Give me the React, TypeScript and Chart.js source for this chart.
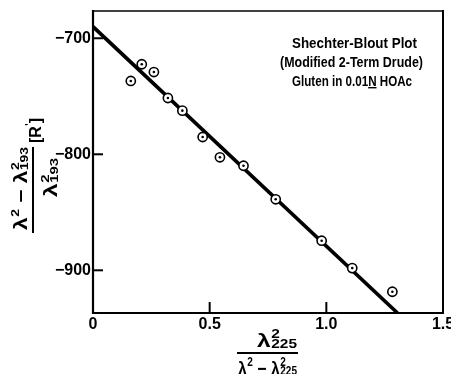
import { useEffect, useRef } from 'react';
import { Chart, registerables } from 'chart.js';

Chart.register(...registerables);

// ---- data ----
const pointX = [0.162, 0.209, 0.261, 0.321, 0.383, 0.47, 0.544, 0.645, 0.783, 0.98, 1.111, 1.283];
const pointY = [-736.8, -722.4, -729.1, -751.5, -762.4, -785.1, -802.6, -809.9, -838.8, -874.5, -898.1, -918.5];
const fitX = [0, 1.305];
const fitY = [-690, -936.8];
const xTickValues = [0, 0.5, 1.0, 1.5];
const yTickValues = [-700, -800, -900];
const xRange = [0, 1.5];
const yRange = [-936.8, -676.5];
const noteLines = ['Shechter-Blout Plot', '(Modified 2-Term Drude)', 'Gluten in 0.01N HOAc'];
const noteUnderline = 'N';

const FONT = '"Liberation Sans", Arial, sans-serif';

type Part = { t: string } | { sup: string; sub: string };
const yNum: Part[] = [{ t: 'λ' }, { sup: '2', sub: '' }, { t: ' − ' }, { t: 'λ' }, { sup: '2', sub: '193' }];
const yDen: Part[] = [{ t: 'λ' }, { sup: '2', sub: '193' }];
const yUnit: Part[] = [{ t: '[R' }, { sup: "'", sub: '' }, { t: ']' }];
const xNum: Part[] = [{ t: 'λ' }, { sup: '2', sub: '225' }];
const xDen: Part[] = [{ t: 'λ' }, { sup: '2', sub: '' }, { t: ' − ' }, { t: 'λ' }, { sup: '2', sub: '225' }];

function partWidth(ctx: CanvasRenderingContext2D, p: Part, main: number, small: number) {
  if ('t' in p) {
    ctx.font = `bold ${main}px ${FONT}`;
    return ctx.measureText(p.t).width;
  }
  ctx.font = `bold ${small}px ${FONT}`;
  const a = p.sup ? ctx.measureText(p.sup).width : 0;
  const b = p.sub ? ctx.measureText(p.sub).width : 0;
  return Math.max(a, b) + 0.5;
}

function drawMath(
  ctx: CanvasRenderingContext2D,
  parts: Part[],
  left: number,
  baseline: number,
  targetW: number,
  main: number,
  small: number
) {
  let total = 0;
  for (const p of parts) total += partWidth(ctx, p, main, small);
  const sx = targetW / total;
  ctx.save();
  ctx.translate(left, baseline);
  ctx.scale(sx, 1);
  ctx.textAlign = 'left';
  ctx.textBaseline = 'alphabetic';
  ctx.fillStyle = '#000';
  let x = 0;
  for (const p of parts) {
    const w = partWidth(ctx, p, main, small);
    if ('t' in p) {
      ctx.font = `bold ${main}px ${FONT}`;
      ctx.fillText(p.t, x, 0);
    } else {
      ctx.font = `bold ${small}px ${FONT}`;
      if (p.sup) ctx.fillText(p.sup, x + 0.5, -main * 0.47);
      if (p.sub) ctx.fillText(p.sub, x + 0.5, main * 0.04);
    }
    x += w;
  }
  ctx.restore();
}

function drawFitted(
  ctx: CanvasRenderingContext2D,
  text: string,
  cx: number,
  baseline: number,
  targetW: number,
  size: number,
  underline?: string
) {
  ctx.save();
  ctx.font = `bold ${size}px ${FONT}`;
  const w = ctx.measureText(text).width;
  const sx = targetW / w;
  ctx.translate(cx - targetW / 2, baseline);
  ctx.scale(sx, 1);
  ctx.textAlign = 'left';
  ctx.textBaseline = 'alphabetic';
  ctx.fillStyle = '#000';
  ctx.fillText(text, 0, 0);
  if (underline) {
    const idx = text.indexOf(underline);
    if (idx >= 0) {
      const x0 = ctx.measureText(text.slice(0, idx)).width;
      const uw = ctx.measureText(underline).width;
      ctx.fillRect(x0, 1.5, uw, 1.4);
    }
  }
  ctx.restore();
}

const decor = {
  id: 'decor',
  beforeDatasetsDraw(chart: any) {
    const { ctx, chartArea: a, scales } = chart;
    ctx.save();
    ctx.strokeStyle = '#000';
    ctx.lineCap = 'butt';
    const line = (x1: number, y1: number, x2: number, y2: number, w: number) => {
      ctx.lineWidth = w;
      ctx.beginPath();
      ctx.moveTo(x1, y1);
      ctx.lineTo(x2, y2);
      ctx.stroke();
    };
    // frame
    line(a.left, a.top - 1, a.left, a.bottom + 1, 2.2);
    line(a.left - 1, a.bottom, a.right + 1, a.bottom, 2.2);
    line(a.right, a.top - 1, a.right, a.bottom + 1, 2);
    line(a.left - 1, a.top, a.right + 1, a.top, 1.5);
    // inward ticks
    for (const v of yTickValues) {
      const py = scales.y.getPixelForValue(v);
      line(a.left, py, a.left + 10, py, 2);
    }
    for (const v of xTickValues) {
      if (v <= xRange[0] || v >= xRange[1]) continue;
      const px = scales.x.getPixelForValue(v);
      line(px, a.bottom, px, a.bottom - 11, 2);
    }
    ctx.restore();
  },
  afterDraw(chart: any) {
    const { ctx } = chart;
    ctx.save();
    ctx.fillStyle = '#000';
    // annotation block
    drawFitted(ctx, noteLines[0], 354.5, 47.5, 125, 15);
    drawFitted(ctx, noteLines[1], 351.5, 66.5, 143, 15);
    drawFitted(ctx, noteLines[2], 352, 85.5, 120, 15, noteUnderline);

    // y-axis title (rotated fraction)
    ctx.save();
    ctx.translate(33, 190);
    ctx.rotate(-Math.PI / 2);
    ctx.fillRect(-43, -1, 86, 2);
    drawMath(ctx, yNum, -40, -6, 83, 18, 11);
    drawMath(ctx, yUnit, 47, 8, 25, 16, 10);
    drawMath(ctx, yDen, -7, 24, 39, 18, 11);
    ctx.restore();

    // x-axis title (fraction)
    ctx.fillRect(237, 352, 61, 2);
    drawMath(ctx, xNum, 257, 347, 40, 19, 12);
    drawMath(ctx, xDen, 238, 374.5, 59, 19, 12);
    ctx.restore();
  },
};

export default function App() {
  const ref = useRef<HTMLCanvasElement>(null);
  useEffect(() => {
    const canvas = ref.current;
    if (!canvas) return;
    const pts = pointX.map((x, i) => ({ x, y: pointY[i] }));
    const fit = fitX.map((x, i) => ({ x, y: fitY[i] }));
    const chart = new Chart(canvas, {
      type: 'scatter',
      data: {
        datasets: [
          {
            label: 'centres',
            data: pts,
            pointRadius: 1.3,
            pointBackgroundColor: '#000',
            pointBorderWidth: 0,
            showLine: false,
          },
          {
            label: 'observed',
            data: pts,
            pointRadius: 4.6,
            pointBackgroundColor: '#fff',
            pointBorderColor: '#000',
            pointBorderWidth: 1.6,
            showLine: false,
          },
          {
            label: 'fit',
            data: fit,
            showLine: true,
            borderColor: '#000',
            borderWidth: 3.6,
            pointRadius: 0,
            fill: false,
          },
        ],
      } as any,
      options: {
        responsive: false,
        animation: false,
        devicePixelRatio: 1,
        layout: { padding: { top: 11, right: 8, left: 0, bottom: 0 } },
        plugins: { legend: { display: false }, tooltip: { enabled: false } },
        scales: {
          x: {
            type: 'linear',
            min: xRange[0],
            max: xRange[1],
            grid: { display: false, drawTicks: false },
            border: { display: false },
            afterBuildTicks: (s: any) => {
              s.ticks = xTickValues.map((v) => ({ value: v }));
            },
            afterFit: (s: any) => {
              s.height = 61;
              s.paddingLeft = 0;
              s.paddingRight = 0;
            },
            ticks: {
              padding: 2,
              color: '#000',
              autoSkip: false,
              maxRotation: 0,
              font: { family: FONT, size: 16, weight: 'bold' },
              callback: (v: any) => (Number(v) === 0 ? '0' : Number(v).toFixed(1)),
            },
          },
          y: {
            type: 'linear',
            min: yRange[0],
            max: yRange[1],
            grid: { display: false, drawTicks: false },
            border: { display: false },
            afterBuildTicks: (s: any) => {
              s.ticks = yTickValues.map((v) => ({ value: v }));
            },
            afterFit: (s: any) => {
              s.width = 93;
              s.paddingTop = 0;
              s.paddingBottom = 0;
            },
            ticks: {
              padding: 2,
              color: '#000',
              autoSkip: false,
              font: { family: FONT, size: 16, weight: 'bold' },
              callback: (v: any) => '−' + Math.abs(Number(v)),
            },
          },
        },
      } as any,
      plugins: [decor],
    });
    return () => chart.destroy();
  }, []);
  return (
    <div style={{ position: 'fixed', left: 0, top: 0, width: 451, height: 374, background: '#fff' }}>
      <canvas ref={ref} width={451} height={374} style={{ display: 'block' }} />
    </div>
  );
}
